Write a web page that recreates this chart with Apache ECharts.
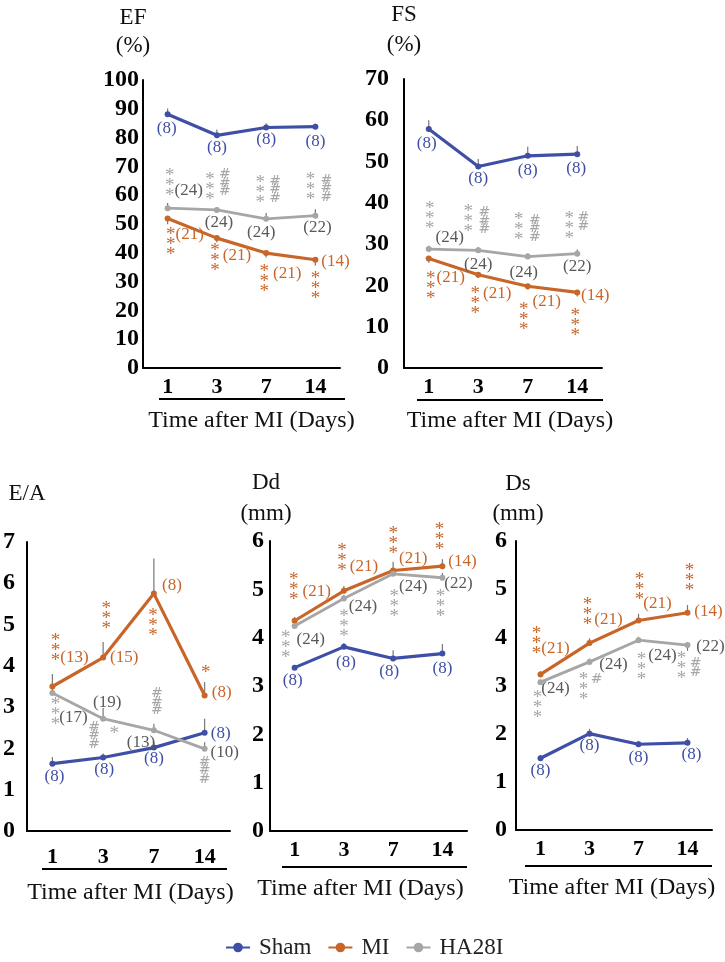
<!DOCTYPE html>
<html>
<head>
<meta charset="utf-8">
<script src="https://cdn.jsdelivr.net/npm/echarts@6/dist/echarts.min.js"></script>
<style>
  html, body { margin: 0; padding: 0; background: #fff; }
  #chart { width: 725px; height: 962px; }
</style>
</head>
<body>
<div id="chart"></div>
<script>
var days = ['1', '3', '7', '14'];

// EF (%)
var efSham = [88.1, 80.8, 83.5, 83.8];
var efMI = [51.9, 45.1, 39.9, 37.6];
var efHA = [55.5, 54.9, 51.8, 52.9];
var efShamErr = [2, 2, 1.5, 1];
var efMIErr = [-2, -1.5, -1.5, -2];
var efHAErr = [1.8, 1, 2, 2.2];
var efShamN = [8, 8, 8, 8];
var efMIN = [21, 21, 21, 14];
var efHAN = [24, 24, 24, 22];

// FS (%)
var fsSham = [57.9, 48.8, 51.4, 51.8];
var fsMI = [26.5, 22.6, 19.8, 18.3];
var fsHA = [28.8, 28.5, 27.0, 27.7];
var fsShamErr = [2.1, 1.8, 2.2, 2];
var fsMIErr = [-1, -0.8, -0.8, -1];
var fsHAErr = [0.8, 0.8, 0.8, 1];
var fsShamN = [8, 8, 8, 8];
var fsMIN = [21, 21, 21, 14];
var fsHAN = [24, 24, 24, 22];

// E/A
var eaSham = [1.63, 1.78, 2.02, 2.38];
var eaMI = [3.50, 4.20, 5.75, 3.28];
var eaHA = [3.34, 2.72, 2.44, 1.99];
var eaShamErr = [0.16, 0.1, 0.14, 0.34];
var eaMIErr = [0.3, 0.38, 0.85, 0.33];
var eaHAErr = [0.1, 0.26, 0.16, 0.16];
var eaShamN = [8, 8, 8, 8];
var eaMIN = [13, 15, 8, 8];
var eaHAN = [17, 19, 13, 10];

// Dd (mm)
var ddSham = [3.38, 3.81, 3.57, 3.67];
var ddMI = [4.35, 4.97, 5.39, 5.48];
var ddHA = [4.24, 4.81, 5.32, 5.24];
var ddShamErr = [0.05, 0.08, 0.17, 0.2];
var ddMIErr = [0.08, 0.1, 0.18, 0.14];
var ddHAErr = [0.05, 0.08, 0.1, 0.1];
var ddShamN = [8, 8, 8, 8];
var ddMIN = [21, 21, 21, 14];
var ddHAN = [24, 24, 24, 22];

// Ds (mm)
var dsSham = [1.49, 2.00, 1.78, 1.81];
var dsMI = [3.23, 3.88, 4.35, 4.51];
var dsHA = [3.07, 3.49, 3.94, 3.84];
var dsShamErr = [0.07, 0.1, 0.07, 0.1];
var dsMIErr = [0.07, 0.1, 0.14, 0.16];
var dsHAErr = [0.05, 0.07, 0.07, -0.12];
var dsShamN = [8, 8, 8, 8];
var dsMIN = [21, 21, 21, 14];
var dsHAN = [24, 24, 24, 22];

var FONT = 'Liberation Serif, Times New Roman, serif';
var COL = { sham: '#3f4fa6', mi: '#c8662a', ha: '#a6a6a6', haText: '#595959' };

// panel layout: grids, axes and where the annotations sit around each point
var panels = [
	{
		title: 'EF\n(%)', titleLH: 28, titleGap: 20, titleShift: -10,
		grid: { left: 143, top: 80, width: 197, height: 288 },
		max: 100, interval: 10, yMargin: 4, xMargin: 8, nameGap: 41, nameShift: 10,
		underline: [159, 345, 399],
		series: [
			{ grp: 'sham', v: efSham, e: efShamErr, n: efShamN, off: [[-1, 14], [0, 12], [0, 12], [0, 15]] },
			{ grp: 'mi', v: efMI, e: efMIErr, n: efMIN, off: [[22, 16], [20, 17], [21, 20], [20, 2]] },
			{ grp: 'ha', v: efHA, e: efHAErr, n: efHAN, off: [[21, -18], [2, 13], [-5, 14], [2, 12]] }
		],
		marks: [
			{ s: 1, t: ['***', '***', '***', '***'], off: [[3, 26], [-2, 23], [-2, 29], [0, 29]] },
			{ s: 2, t: ['***', '***', '***', '***'], off: [[2, -22], [-7, -20], [-6, -26], [-5, -26]] },
			{ s: 2, t: ['', '###', '###', '###'], off: [[0, 0], [8, -27], [9, -29], [11, -27]] }
		]
	},
	{
		title: 'FS\n(%)', titleLH: 30, titleGap: 19, titleShift: 0,
		grid: { left: 404, top: 79, width: 198, height: 289 },
		max: 70, interval: 10, yMargin: 15, xMargin: 8, nameGap: 41, nameShift: 7,
		underline: [417, 603, 400],
		series: [
			{ grp: 'sham', v: fsSham, e: fsShamErr, n: fsShamN, off: [[-2, 15], [0, 12], [0, 15], [-1, 14]] },
			{ grp: 'mi', v: fsMI, e: fsMIErr, n: fsMIN, off: [[22, 19], [19, 19], [19, 15], [18, 3]] },
			{ grp: 'ha', v: fsHA, e: fsHAErr, n: fsHAN, off: [[21, -12], [0, 14], [-4, 16], [0, 13]] }
		],
		marks: [
			{ s: 1, t: ['***', '***', '***', '***'], off: [[2, 30], [-3, 29], [-4, 34], [-2, 34]] },
			{ s: 2, t: ['***', '***', '***', '***'], off: [[1, -30], [-10, -28], [-9, -27], [-8, -25]] },
			{ s: 2, t: ['', '###', '###', '##'], off: [[0, 0], [6, -29], [7, -28], [6, -32]] }
		]
	},
	{
		title: 'E/A', titleLH: 29, titleGap: 34, titleShift: 0,
		grid: { left: 26, top: 542, width: 204, height: 289 },
		max: 7, interval: 1, yMargin: 12, xMargin: 15, nameGap: 50, nameShift: 2,
		underline: [42, 227, 869],
		series: [
			{ grp: 'sham', v: eaSham, e: eaShamErr, n: eaShamN, off: [[2, 13], [1, 12], [0, 11], [16, 1]] },
			{ grp: 'mi', v: eaMI, e: eaMIErr, n: eaMIN, off: [[22, -29], [21, 0], [18, -8], [17, -3]] },
			{ grp: 'ha', v: eaHA, e: eaHAErr, n: eaHAN, off: [[21, 24], [4, -16], [-13, 12], [20, 4]] }
		],
		marks: [
			{ s: 1, t: ['***', '***', '***', '*'], off: [[3, -35], [3, -39], [-1, 32], [1, -23]] },
			{ s: 2, t: ['***', '*', '', ''], off: [[3, 22], [11, 15], [0, 0], [0, 0]] },
			{ s: 2, t: ['', '###', '###', '###'], off: [[0, 0], [-9, 17], [3, -28], [0, 22]] }
		]
	},
	{
		title: 'Dd\n(mm)', titleLH: 31, titleGap: 8, titleShift: -4,
		grid: { left: 270, top: 541, width: 197, height: 290 },
		max: 6, interval: 1, yMargin: 6, xMargin: 8, nameGap: 46, nameShift: -8,
		underline: [282, 467, 867],
		series: [
			{ grp: 'sham', v: ddSham, e: ddShamErr, n: ddShamN, off: [[-2, 13], [2, 16], [-4, 13], [0, 15]] },
			{ grp: 'mi', v: ddMI, e: ddMIErr, n: ddMIN, off: [[22, -29], [20, -24], [20, -12], [20, -5]] },
			{ grp: 'ha', v: ddHA, e: ddHAErr, n: ddHAN, off: [[16, 13], [19, 8], [20, 13], [16, 6]] }
		],
		marks: [
			{ s: 1, t: ['***', '***', '***', '***'], off: [[-1, -31], [-2, -30], [0, -26], [-3, -26]] },
			{ s: 2, t: ['***', '***', '***', '***'], off: [[-9, 22], [0, 28], [1, 33], [-2, 29]] }
		]
	},
	{
		title: 'Ds\n(mm)', titleLH: 30, titleGap: 9, titleShift: 2,
		grid: { left: 516, top: 541, width: 196, height: 289 },
		max: 6, interval: 1, yMargin: 9, xMargin: 8, nameGap: 46, nameShift: -2,
		underline: [525, 712, 866],
		series: [
			{ grp: 'sham', v: dsSham, e: dsShamErr, n: dsShamN, off: [[0, 12], [0, 12], [0, 13], [4, 12]] },
			{ grp: 'mi', v: dsMI, e: dsMIErr, n: dsMIN, off: [[15, -26], [19, -24], [19, -17], [21, -1]] },
			{ grp: 'ha', v: dsHA, e: dsHAErr, n: dsHAN, off: [[15, 6], [24, 3], [24, 15], [23, 1]] }
		],
		marks: [
			{ s: 1, t: ['***', '***', '***', '***'], off: [[-4, -30], [-2, -28], [1, -30], [2, -32]] },
			{ s: 2, t: ['***', '***', '***', '***'], off: [[-3, 26], [-6, 28], [3, 30], [-6, 24]] },
			{ s: 2, t: ['', '#', '', '##'], off: [[0, 0], [7, 17], [0, 0], [8, 23]] }
		]
	}
];

var groups = {
	sham: { name: 'Sham', line: COL.sham, text: COL.sham, star: COL.sham, width: 3.2 },
	mi: { name: 'MI', line: COL.mi, text: COL.mi, star: COL.mi, width: 3.2 },
	ha: { name: 'HA28I', line: COL.ha, text: COL.haText, star: COL.ha, width: 2.8 }
};

var grids = [], xAxes = [], yAxes = [], series = [], graphics = [];

panels.forEach(function (p, pi) {
	grids.push(p.grid);
	xAxes.push({
		type: 'category', gridIndex: pi, data: days, boundaryGap: true,
		name: 'Time after MI (Days)', nameLocation: 'middle', nameGap: p.nameGap,
		nameTextStyle: {
			fontFamily: FONT, fontSize: 24, color: '#111',
			padding: p.nameShift > 0 ? [0, 0, 0, 2 * p.nameShift] : [0, -2 * p.nameShift, 0, 0]
		},
		axisLine: { lineStyle: { color: '#000', width: 2 } },
		axisTick: { alignWithLabel: true, length: 6, lineStyle: { color: '#000', width: 1.5 } },
		axisLabel: { margin: p.xMargin, fontFamily: FONT, fontSize: 22, fontWeight: 'bold', color: '#000' },
		splitLine: { show: false }
	});
	yAxes.push({
		type: 'value', gridIndex: pi, min: 0, max: p.max, interval: p.interval,
		name: p.title, nameLocation: 'end', nameGap: p.titleGap,
		nameTextStyle: {
			fontFamily: FONT, fontSize: 23, color: '#111', lineHeight: p.titleLH, align: 'center',
			padding: p.titleShift > 0 ? [0, 0, 0, 2 * p.titleShift] : [0, -2 * p.titleShift, 0, 0]
		},
		axisLine: { show: true, lineStyle: { color: '#000', width: 2 } },
		axisTick: { show: false },
		axisLabel: { margin: p.yMargin, fontFamily: FONT, fontSize: 24, fontWeight: 'bold', color: '#000' },
		splitLine: { show: false }
	});

	// error bars
	p.series.forEach(function (s) {
		series.push({
			type: 'custom', xAxisIndex: pi, yAxisIndex: pi, silent: true, z: 1,
			data: s.v.map(function (v, i) { return [i, v, s.e[i]]; }),
			renderItem: function (params, api) {
				var a = api.coord([api.value(0), api.value(1)]);
				var b = api.coord([api.value(0), api.value(1) + api.value(2)]);
				return {
					type: 'line',
					shape: { x1: a[0], y1: a[1], x2: b[0], y2: b[1] },
					style: { stroke: '#777', lineWidth: 1.2 }
				};
			}
		});
	});

	// the three group lines with their n labels
	p.series.forEach(function (s) {
		var g = groups[s.grp];
		series.push({
			name: g.name, type: 'line', xAxisIndex: pi, yAxisIndex: pi, z: 3,
			symbol: 'circle', symbolSize: 6, showSymbol: true,
			itemStyle: { color: g.line },
			lineStyle: { color: g.line, width: g.width },
			data: s.v.map(function (v, i) {
				return {
					value: v,
					label: {
						show: true, position: 'inside', offset: s.off[i],
						formatter: '(' + s.n[i] + ')',
						fontFamily: FONT, fontSize: 17, color: g.text
					}
				};
			})
		});
	});

	// significance marks
	p.marks.forEach(function (m) {
		var s = p.series[m.s];
		var g = groups[s.grp];
		var items = [];
		m.t.forEach(function (t, i) {
			if (t) items.push({ i: i, v: s.v[i], t: t, off: m.off[i] });
		});
		var isHash = m.t.join('').indexOf('#') >= 0;
		series.push({
			type: 'custom', xAxisIndex: pi, yAxisIndex: pi, silent: true, z: 4,
			data: items.map(function (it) { return [it.i, it.v]; }),
			renderItem: function (params, api) {
				var it = items[params.dataIndex];
				var pt = api.coord([api.value(0), api.value(1)]);
				var txt = it.t.split('').join('\n');
				return {
					type: 'text',
					style: {
						text: txt, x: pt[0] + it.off[0], y: pt[1] + it.off[1],
						align: 'center', verticalAlign: 'middle',
						fontFamily: isHash ? 'DejaVu Sans' : FONT,
						fontSize: isHash ? 14 : 19,
						lineHeight: isHash ? 8.5 : 10,
						fill: isHash ? COL.ha : g.star
					}
				};
			}
		});
	});

	graphics.push({
		type: 'line', silent: true,
		shape: { x1: p.underline[0], y1: p.underline[2], x2: p.underline[1], y2: p.underline[2] },
		style: { stroke: '#000', lineWidth: 2 }
	});
});

var chart = echarts.init(document.getElementById('chart'), null, { renderer: 'canvas' });
chart.setOption({
	backgroundColor: '#fff',
	animation: false,
	grid: grids,
	xAxis: xAxes,
	yAxis: yAxes,
	series: series,
	graphic: graphics,
	legend: {
		data: ['Sham', 'MI', 'HA28I'],
		left: 220, top: 931,
		itemWidth: 24, itemHeight: 12, itemGap: 16,
		textStyle: { fontFamily: FONT, fontSize: 23, color: '#222', padding: [0, 0, 0, 4] }
	}
});
</script>
</body>
</html>
